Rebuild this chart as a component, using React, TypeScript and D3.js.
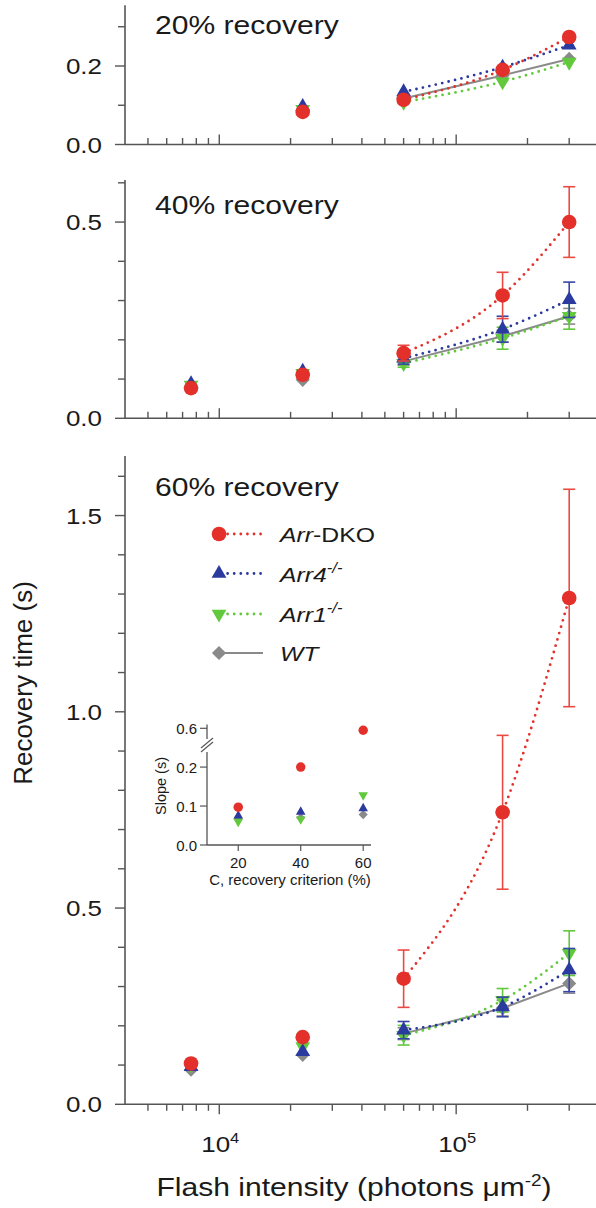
import React from "react";
import * as d3 from "d3";

// ---------- data ----------
const FLASH = [7600, 22500, 60000, 157000, 300000];
const SERIES_KEYS = ["WT", "Arr1", "Arr4", "DKO"];

// 20% recovery (first intensity not measured)
const R20_WT = [null, 0.087, 0.117, 0.176, 0.218];
const R20_ARR1 = [null, 0.09, 0.108, 0.16, 0.21];
const R20_ARR4 = [null, 0.097, 0.134, 0.197, 0.253];
const R20_DKO = [null, 0.083, 0.114, 0.19, 0.274];
const E20 = [0, 0, 0, 0, 0];

// 40% recovery
const R40_WT = [0.08, 0.098, 0.145, 0.209, 0.26];
const R40_ARR1 = [0.085, 0.115, 0.14, 0.204, 0.26];
const R40_ARR4 = [0.088, 0.12, 0.153, 0.227, 0.302];
const R40_DKO = [0.077, 0.111, 0.166, 0.313, 0.5];
const E40_WT = [0, 0, 0.01, 0.015, 0.02];
const E40_ARR1 = [0, 0, 0.01, 0.028, 0.033];
const E40_ARR4 = [0, 0, 0.015, 0.033, 0.045];
const E40_DKO = [0, 0, 0.02, 0.059, 0.09];

// 60% recovery
const R60_WT = [0.088, 0.126, 0.18, 0.245, 0.308];
const R60_ARR1 = [0.1, 0.147, 0.176, 0.265, 0.385];
const R60_ARR4 = [0.096, 0.134, 0.189, 0.248, 0.342];
const R60_DKO = [0.104, 0.171, 0.32, 0.744, 1.29];
const E60_WT = [0, 0, 0.015, 0.02, 0.025];
const E60_ARR1 = [0, 0, 0.025, 0.03, 0.057];
const E60_ARR4 = [0, 0, 0.022, 0.025, 0.055];
const E60_DKO = [0, 0, 0.073, 0.196, 0.277];

const Y_TICKS_20 = [0, 0.2];
const Y_TICKS_40 = [0, 0.5];
const Y_TICKS_60 = [0, 0.5, 1.0, 1.5];

// inset: slope vs recovery criterion
const CRITERION = [20, 40, 60];
const SLOPE_WT = [0.066, 0.07, 0.078];
const SLOPE_ARR1 = [0.06, 0.066, 0.128];
const SLOPE_ARR4 = [0.075, 0.085, 0.094];
const SLOPE_DKO = [0.097, 0.2, 0.595];
const INSET_Y_TICKS = [0, 0.1, 0.2];
const INSET_Y_TICKS_HIGH = [0.6];

// ---------- style ----------
const FONT = "'Liberation Sans', Arial, Helvetica, sans-serif";
const SX = 1.18;
const AX = "#555";
const TXT = "#1a1a1a";
const STYLE: Record<string, any> = {
  WT: { color: "#8a8a8a", err: "#8a8a8a", dotted: false, shape: "diamond" },
  Arr1: { color: "#62c83c", err: "#62c83c", dotted: true, shape: "down" },
  Arr4: { color: "#2b3a9e", err: "#3646a8", dotted: true, shape: "up" },
  DKO: { color: "#e3302a", err: "#ea4a42", dotted: true, shape: "circle" },
};

// ---------- scales ----------
const W = 596;
const H = 1208;
const x = d3.scaleLog().domain([4000, 400000]).range([125, 598.8]);
const K = 392.5;
const mkY = (y0: number, top: number) => d3.scaleLinear().domain([0, top]).range([y0, y0 - top * K]);

const PANELS = [
  { title: "20% recovery", y: mkY(144.5, 0.355), ticks: Y_TICKS_20, tickDir: -1, titleY: 34,
    data: { WT: R20_WT, Arr1: R20_ARR1, Arr4: R20_ARR4, DKO: R20_DKO },
    err: { WT: E20, Arr1: E20, Arr4: E20, DKO: E20 } },
  { title: "40% recovery", y: mkY(418.3, 0.607), ticks: Y_TICKS_40, tickDir: -1, titleY: 214,
    data: { WT: R40_WT, Arr1: R40_ARR1, Arr4: R40_ARR4, DKO: R40_DKO },
    err: { WT: E40_WT, Arr1: E40_ARR1, Arr4: E40_ARR4, DKO: E40_DKO } },
  { title: "60% recovery", y: mkY(1104.3, 1.652), ticks: Y_TICKS_60, tickDir: 1, titleY: 496,
    data: { WT: R60_WT, Arr1: R60_ARR1, Arr4: R60_ARR4, DKO: R60_DKO },
    err: { WT: E60_WT, Arr1: E60_ARR1, Arr4: E60_ARR4, DKO: E60_DKO } },
];

function markerPath(shape: string, big: boolean) {
  const s = big ? 1 : 0.42;
  if (shape === "circle") return d3.symbol().type(d3.symbolCircle).size(168 * s)();
  if (shape === "up" || shape === "down") return d3.symbol().type(d3.symbolTriangle).size(95 * s)();
  return d3.symbol().type(d3.symbolSquare).size(100 * s)();
}
function markerRot(shape: string) {
  if (shape === "down") return 180;
  if (shape === "diamond") return 45;
  return 0;
}

function Marker({ cx, cy, k, big = true }: any) {
  const st = STYLE[k];
  return (
    <path d={markerPath(st.shape, big) as string}
      transform={`translate(${cx},${cy}) rotate(${markerRot(st.shape)})`}
      fill={st.color} />
  );
}

function SText({ x: tx, y: ty, size, anchor = "start", children, italic = false }: any) {
  return (
    <text transform={`translate(${tx},${ty}) scale(${SX},1)`} fontSize={size} textAnchor={anchor}
      fill={TXT} fontFamily={FONT} fontStyle={italic ? "italic" : "normal"}>
      {children}
    </text>
  );
}

function Panel({ p }: any) {
  const y = p.y;
  const [y0, yTop] = y.range();
  const top = y.domain()[1];
  const minorY = d3.range(0, top + 1e-9, 0.1);
  const xt = x.ticks().filter((t) => t > 4000 && t < 400000);
  const line = d3.line<any>().x((d) => x(d[0])).y((d) => y(d[1]));
  return (
    <g>
      {/* y axis */}
      <line x1={125} x2={125} y1={y0} y2={yTop} stroke={AX} strokeWidth={1.6} />
      {minorY.map((v) => {
        const major = p.ticks.some((t: number) => Math.abs(t - v) < 1e-6);
        return <line key={v} x1={125 - (major ? 10 : 7)} x2={125} y1={y(v)} y2={y(v)} stroke={AX} strokeWidth={1.4} />;
      })}
      {p.ticks.map((t: number) => (
        <SText key={t} x={102} y={y(t) + 8} size={22} anchor="end">{t.toFixed(1)}</SText>
      ))}
      {/* x axis */}
      <line x1={125} x2={W} y1={y0} y2={y0} stroke={AX} strokeWidth={1.6} />
      {xt.map((t) => {
        const major = Math.abs(Math.log10(t) - Math.round(Math.log10(t))) < 1e-6;
        const len = major ? 10 : 6.5;
        return <line key={t} x1={x(t)} x2={x(t)} y1={y0} y2={y0 + p.tickDir * len} stroke={AX} strokeWidth={1.4} />;
      })}
      <SText x={155} y={p.titleY} size={25.5}>{p.title}</SText>
      {/* series */}
      {SERIES_KEYS.map((k) => {
        const st = STYLE[k];
        const vals = p.data[k];
        const errs = p.err[k];
        const pts = FLASH.map((f, i) => [f, vals[i], errs[i]]).filter((d) => d[1] != null);
        const fit = pts.filter((d) => d[0] >= 60000);
        const path = st.dotted ? line.curve(d3.curveMonotoneX)(fit) : line.curve(d3.curveLinear)(fit);
        return (
          <g key={k}>
            {pts.filter((d) => d[2] > 0).map((d, i) => {
              const cx = x(d[0]);
              const ya = y(d[1] - d[2]);
              const yb = y(d[1] + d[2]);
              return (
                <g key={i} stroke={st.err} strokeWidth={1.6}>
                  <line x1={cx} x2={cx} y1={ya} y2={yb} />
                  <line x1={cx - 6} x2={cx + 6} y1={ya} y2={ya} />
                  <line x1={cx - 6} x2={cx + 6} y1={yb} y2={yb} />
                </g>
              );
            })}
            <path d={path as string} fill="none" stroke={st.color}
              strokeWidth={st.dotted ? 2.8 : 2}
              strokeDasharray={st.dotted ? "0 6.6" : undefined}
              strokeLinecap={st.dotted ? "round" : "butt"} />
            {pts.map((d, i) => <Marker key={i} cx={x(d[0])} cy={y(d[1])} k={k} />)}
          </g>
        );
      })}
    </g>
  );
}

const LEGEND = [
  { k: "DKO", y: 534 },
  { k: "Arr4", y: 573.5 },
  { k: "Arr1", y: 614 },
  { k: "WT", y: 653 },
];

function Legend() {
  return (
    <g>
      {LEGEND.map(({ k, y }) => {
        const st = STYLE[k];
        return (
          <g key={k}>
            <line x1={221} x2={263} y1={y} y2={y} stroke={st.color}
              strokeWidth={st.dotted ? 2.8 : 2}
              strokeDasharray={st.dotted ? "0 6.6" : undefined}
              strokeLinecap={st.dotted ? "round" : "butt"} />
            <Marker cx={219} cy={y} k={k} />
          </g>
        );
      })}
      <SText x={280} y={542} size={21}>
        <tspan fontStyle="italic">Arr</tspan>-DKO
      </SText>
      <SText x={280} y={581.5} size={21} italic>
        Arr4<tspan fontSize={14} dy={-9}>-/-</tspan>
      </SText>
      <SText x={280} y={622} size={21} italic>
        Arr1<tspan fontSize={14} dy={-9}>-/-</tspan>
      </SText>
      <SText x={280} y={661} size={21} italic>WT</SText>
    </g>
  );
}

function Inset() {
  const xi = d3.scaleLinear().domain([10, 62.5]).range([207, 371]);
  const yl = d3.scaleLinear().domain([0, 0.24]).range([845, 751.5]);
  const yh = d3.scaleLinear().domain([0.57, 0.61]).range([740, 724.4]);
  const data: Record<string, number[]> = { WT: SLOPE_WT, Arr1: SLOPE_ARR1, Arr4: SLOPE_ARR4, DKO: SLOPE_DKO };
  const yv = (v: number) => (v > 0.3 ? yh(v) : yl(v));
  const f = { fontFamily: FONT, fill: TXT, fontSize: 15 };
  return (
    <g>
      <line x1={207} x2={207} y1={845} y2={752} stroke={AX} strokeWidth={1.3} />
      <line x1={207} x2={207} y1={739} y2={724.4} stroke={AX} strokeWidth={1.3} />
      <line x1={201} x2={213} y1={752} y2={742} stroke={AX} strokeWidth={1.1} />
      <line x1={201} x2={213} y1={748} y2={738} stroke={AX} strokeWidth={1.1} />
      <line x1={207} x2={371} y1={845} y2={845} stroke={AX} strokeWidth={1.3} />
      {INSET_Y_TICKS.map((t) => (
        <g key={t}>
          <line x1={200} x2={207} y1={yl(t)} y2={yl(t)} stroke={AX} strokeWidth={1.2} />
          <text x={197} y={yl(t) + 5.5} textAnchor="end" {...f}>{t.toFixed(1)}</text>
        </g>
      ))}
      {INSET_Y_TICKS_HIGH.map((t) => (
        <g key={t}>
          <line x1={200} x2={207} y1={yh(t)} y2={yh(t)} stroke={AX} strokeWidth={1.2} />
          <text x={197} y={yh(t) + 5.5} textAnchor="end" {...f}>{t.toFixed(1)}</text>
        </g>
      ))}
      {CRITERION.map((c) => (
        <g key={c}>
          <line x1={xi(c)} x2={xi(c)} y1={845} y2={851} stroke={AX} strokeWidth={1.2} />
          <text x={xi(c)} y={868} textAnchor="middle" {...f}>{c}</text>
        </g>
      ))}
      <text x={290} y={885} textAnchor="middle" {...f}>C, recovery criterion (%)</text>
      <text transform="translate(166,786) rotate(-90)" textAnchor="middle" {...f} fontSize={14.5}>Slope (s)</text>
      {SERIES_KEYS.map((k) => (
        <g key={k}>
          {CRITERION.map((c, i) => (
            <Marker key={c} cx={xi(c)} cy={yv(data[k][i])} k={k} big={false} />
          ))}
        </g>
      ))}
    </g>
  );
}

export default function App() {
  return (
    <svg width={W} height={H} viewBox={`0 0 ${W} ${H}`}
      style={{ position: "absolute", left: 0, top: 0, background: "#fff" }}>
      <rect width={W} height={H} fill="#fff" />
      {PANELS.map((p) => <Panel key={p.title} p={p} />)}
      {/* x tick labels */}
      {[10000, 100000].map((t) => (
        <SText key={t} x={x(t) + 1} y={1152} size={22} anchor="middle">
          10<tspan fontSize={14} dy={-9}>{Math.round(Math.log10(t))}</tspan>
        </SText>
      ))}
      <SText x={354} y={1196} size={25.5} anchor="middle">
        Flash intensity (photons {"\u03BC"}m<tspan fontSize={16} dy={-10}>-2</tspan><tspan dy={10}>)</tspan>
      </SText>
      <text transform="translate(32,683) rotate(-90)" textAnchor="middle" fontSize={26}
        fontFamily={FONT} fill={TXT}>Recovery time (s)</text>
      <Legend />
      <Inset />
    </svg>
  );
}
